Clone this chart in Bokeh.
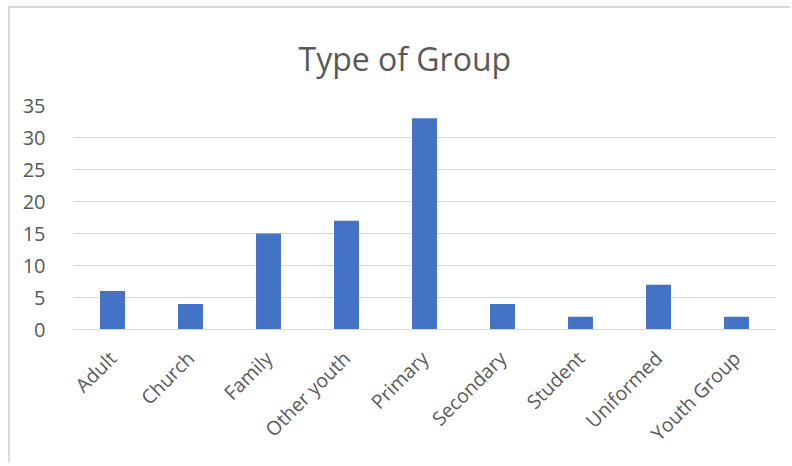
import math
from bokeh.plotting import figure
from bokeh.models import Range1d, FactorRange, FixedTicker, ColumnDataSource
from bokeh.embed import file_html
from bokeh.resources import INLINE

categories = ["Adult", "Church", "Family", "Other youth", "Primary",
              "Secondary", "Student", "Uniformed", "Youth Group"]
counts = [6, 4, 15, 17, 33, 4, 2, 7, 2]
y_ticks = [0, 5, 10, 15, 20, 25, 30, 35]
title_text = "Type of Group"

FONT = "Open Sans"
GREY_TEXT = "#595959"
GRID = "#d9d9d9"
BAR = "#4472C4"

source = ColumnDataSource(dict(cat=categories, val=counts))

p = figure(
    x_range=FactorRange(*categories, range_padding=0),
    y_range=Range1d(0, 35),
    width=782, height=456,
    output_backend="svg", toolbar_location=None,
    min_border_left=63, min_border_right=17,
    min_border_top=97, min_border_bottom=135,
)
p.styles = {"border-left": "2px solid #d9d9d9", "border-top": "2px solid #d9d9d9",
            "margin-left": "8px", "margin-top": "6px"}

p.vbar(x="cat", top="val", width=0.32, source=source,
       fill_color=BAR, line_color=None)

p.title.text = title_text
p.title.align = "left"
p.title.offset = 225
p.title.text_font = FONT
p.title.text_font_size = "32px"
p.title.text_font_style = "normal"
p.title.text_color = GREY_TEXT
p.title.standoff = 51

p.outline_line_color = None
p.xgrid.grid_line_color = None
p.ygrid.grid_line_color = GRID
p.ygrid.grid_line_width = 1

p.yaxis.ticker = FixedTicker(ticks=y_ticks)
p.yaxis.axis_line_color = None
p.yaxis.major_tick_line_color = None
p.yaxis.minor_tick_line_color = None
p.yaxis.major_label_text_font = FONT
p.yaxis.major_label_text_font_size = "20px"
p.yaxis.major_label_text_color = GREY_TEXT
p.yaxis.major_label_standoff = 22

p.xaxis.axis_line_color = GRID
p.xaxis.axis_line_width = 1
p.xaxis.major_tick_line_color = None
p.xaxis.minor_tick_line_color = None
p.xaxis.major_label_orientation = math.pi / 4
p.xaxis.major_label_text_font = FONT
p.xaxis.major_label_text_font_size = "19.5px"
p.xaxis.major_label_text_color = GREY_TEXT
p.xaxis.major_label_standoff = 19

open("out.html", "w").write(file_html(p, INLINE))
